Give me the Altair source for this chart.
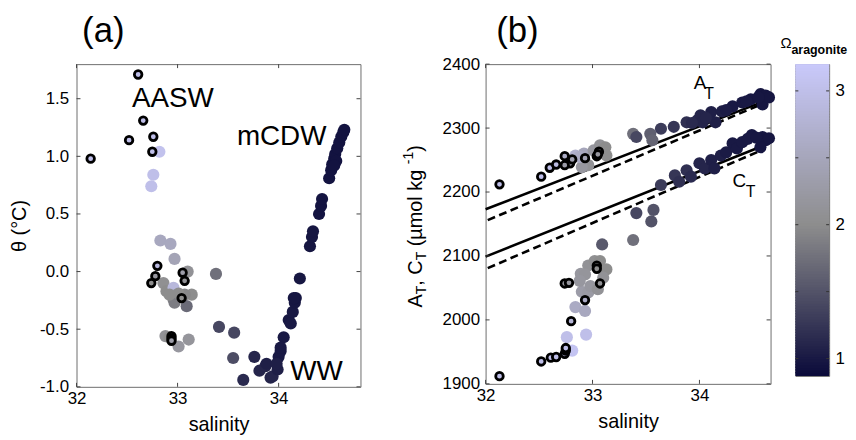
import altair as alt
import pandas as pd
import numpy as np

FONT = "Liberation Sans"

# ---------------- Panel (a): theta vs salinity ----------------
a_sal = [32.82, 32.76, 32.74, 32.83, 32.93, 32.97,
         32.86, 32.89, 32.96, 33.10, 33.14, 33.07, 32.96, 32.97, 33.09, 33.01, 32.92,
         32.88, 33.01, 33.11, 32.92,
         33.38, 33.41, 33.56, 33.55,
         33.65, 33.76, 33.81, 33.87, 33.88, 33.92, 33.94, 33.99, 34.00, 34.02, 34.05,
         34.10, 34.12, 34.14, 34.16, 34.17, 34.15, 34.21, 34.31, 34.33, 34.34, 34.40,
         34.42, 34.43, 34.50, 34.52, 34.53, 34.55, 34.56, 34.58, 34.60, 34.62, 34.64,
         34.65, 34.57, 34.55, 34.02, 33.98]
a_theta = [1.04, 0.84, 0.74, 0.27, 0.24, 0.11,
           -0.10, -0.17, -0.14, 0.00, -0.20, -0.20, -0.24, -0.27, -0.30, -0.19, -0.20,
           -0.56, -0.65, -0.59, -0.57,
           -0.02, -0.48, -0.53, -0.75,
           -0.94, -0.74, -0.86, -0.82, -0.80, -0.92, -0.91, -0.85, -0.74, -0.69, -0.57,
           -0.42, -0.45, -0.35, -0.27, -0.23, -0.23, -0.06, 0.22, 0.30, 0.35, 0.50,
           0.57, 0.63, 0.81, 0.88, 0.93, 0.98, 1.02, 1.07, 1.12, 1.17, 1.21,
           1.23, 0.96, 0.92, -0.66, -0.80]
a_omega = [3.05, 3.00, 3.00, 2.55, 2.55, 2.45,
           2.05, 2.00, 2.85, 2.10, 2.00, 1.95, 1.90, 1.85, 1.70, 2.00, 2.00,
           2.10, 2.20, 2.15, 2.00,
           1.75, 1.40, 1.40, 1.45,
           1.15, 1.10, 1.10, 1.10, 1.05, 1.10, 1.10, 1.05, 1.00, 1.00, 1.00,
           0.98, 1.00, 1.00, 0.98, 0.97, 0.98, 0.98, 0.97, 0.97, 0.97, 0.96,
           0.96, 0.96, 0.95, 0.95, 0.95, 0.95, 0.95, 0.95, 0.95, 0.95, 0.95,
           0.95, 0.95, 0.95, 1.00, 1.05]

a_ring_sal = [32.61, 32.66, 32.52, 32.76, 32.75, 32.14, 32.80, 32.78, 32.74,
              33.05, 33.07, 33.04, 32.94, 32.94, 32.94]
a_ring_theta = [1.71, 1.31, 1.14, 1.17, 1.04, 0.98, 0.05, -0.04, -0.10,
                -0.01, -0.08, -0.23, -0.56, -0.58, -0.60]
a_ring_omega = [3.0, 3.0, 3.0, 3.0, 3.0, 3.0, 2.9, 2.2, 2.0,
                2.3, 2.1, 2.0, 2.3, 2.3, 2.3]

a_lab_txt = ["AASW", "mCDW", "WW"]
a_lab_sal = [32.954, 34.03, 34.375]
a_lab_theta = [1.432, 1.10, -0.945]

# ---------------- Panel (b): AT / CT vs salinity ----------------
at_sal = [32.84, 32.92, 33.01, 33.07, 33.12, 33.13, 32.96, 32.90, 32.88,
          33.38, 33.41, 33.54, 33.56,
          33.64, 33.76, 33.88, 33.98, 34.01, 34.03, 34.11, 34.15, 34.21, 34.31,
          34.40, 34.48, 34.57, 34.62, 34.59, 34.65, 34.55, 34.25, 34.06, 33.93, 34.44]
at_val = [2257, 2260, 2265, 2273, 2270, 2257, 2242, 2239, 2255,
          2291, 2286, 2291, 2281,
          2299, 2302, 2309, 2312, 2320, 2309, 2325, 2309, 2326, 2334,
          2340, 2345, 2353, 2351, 2337, 2348, 2348, 2328, 2316, 2308, 2342]
at_omega = [2.7, 2.5, 2.2, 2.1, 2.0, 2.0, 2.1, 2.2, 2.6,
            1.75, 1.4, 1.6, 1.65,
            1.3, 1.25, 1.2, 1.15, 1.1, 1.1, 1.05, 1.05, 1.05, 1.0,
            1.0, 0.98, 0.97, 0.97, 0.97, 0.97, 0.98, 1.02, 1.1, 1.15, 1.0]

at_ring_sal = [32.13, 32.52, 32.60, 32.66, 32.74, 32.79, 32.74, 32.81, 32.93, 33.04, 33.06, 33.05]
at_ring_val = [2212, 2224, 2238, 2243, 2256, 2245, 2242, 2251, 2253, 2256, 2263, 2259]
at_ring_omega = [3.0, 3.0, 3.0, 2.9, 2.6, 2.3, 2.3, 2.4, 2.4, 2.3, 2.2, 2.2]

ct_sal = [32.76, 32.94, 32.81, 32.84, 32.93,
          32.90, 32.96, 32.98, 32.89, 32.96, 33.02, 33.07, 33.13, 33.10, 32.93, 33.05, 32.88,
          33.09, 33.38, 33.41, 33.55, 33.57,
          33.64, 33.77, 33.81, 33.88, 33.92, 34.00, 34.05, 34.11, 34.14, 34.20, 34.25,
          34.31, 34.35, 34.40, 34.49, 34.59, 34.62, 34.57, 34.65, 34.45, 34.53]
ct_val = [1973, 1977, 1952, 2020, 2014,
          2044, 2043, 2053, 2072, 2085, 2092, 2092, 2079, 2066, 2071, 2048, 2061,
          2118, 2125, 2167, 2154, 2172,
          2211, 2226, 2216, 2234, 2224, 2245, 2237, 2250, 2237, 2257, 2262,
          2276, 2268, 2278, 2289, 2286, 2281, 2270, 2284, 2283, 2285]
ct_omega = [3.0, 3.0, 3.1, 2.6, 2.55,
            2.3, 2.25, 2.2, 2.2, 2.1, 2.05, 2.0, 2.0, 2.1, 2.15, 2.1, 2.2,
            1.55, 1.75, 1.4, 1.5, 1.5,
            1.3, 1.25, 1.2, 1.2, 1.15, 1.1, 1.1, 1.05, 1.05, 1.05, 1.02,
            1.0, 1.0, 1.0, 0.98, 0.97, 0.97, 0.97, 0.97, 1.0, 0.98]

ct_ring_sal = [32.13, 32.52, 32.61, 32.66, 32.74, 32.75, 32.75, 32.80, 32.93,
               32.74, 32.78, 33.04, 33.04, 33.07]
ct_ring_val = [1912, 1935, 1941, 1942, 1947, 1952, 1956, 1998, 2031,
               2057, 2058, 2085, 2080, 2057]
ct_ring_omega = [3.0, 3.0, 3.0, 3.0, 3.0, 3.0, 3.0, 2.8, 2.6,
                 2.2, 2.2, 2.0, 2.0, 2.1]

# mixing lines (end points)
line_at_solid_sal = [32.0, 34.59]
line_at_solid_val = [2173, 2341]
line_at_dash_sal = [32.02, 34.59]
line_at_dash_val = [2156, 2338]
line_ct_solid_sal = [32.0, 34.59]
line_ct_solid_val = [2099, 2272]
line_ct_dash_sal = [32.02, 34.59]
line_ct_dash_val = [2081, 2266]

# ticks
a_xticks = [32, 33, 34]
a_yticks = [-1.0, -0.5, 0.0, 0.5, 1.0, 1.5]
b_xticks = [32, 33, 34]
b_yticks = [1900, 2000, 2100, 2200, 2300, 2400]
cb_ticks = [1.0, 1.5, 2.0, 2.5, 3.0]
cb_labels = [1, 2, 3]

# colour scale for Omega aragonite
OMEGA_DOMAIN = [0.87, 2.0, 3.2]
OMEGA_RANGE = ["#0a0a3a", "#8d8d8d", "#c9c9fb"]
cscale = alt.Scale(domain=OMEGA_DOMAIN, range=OMEGA_RANGE, interpolate="rgb", clamp=True)

TICK_COLOR = "#444"
TICK_LEN = 4
PT_SIZE = 150
RING_SIZE = 58
RING_W = 2.8


def inner_ticks(xs, ys, X, Y, W, H, L=TICK_LEN):
    dx = pd.DataFrame({"x": xs})
    dy = pd.DataFrame({"y": ys})
    layers = []
    for y0, y1 in [(H, H - L), (0, L)]:
        layers.append(alt.Chart(dx).mark_rule(color=TICK_COLOR, strokeWidth=1).encode(
            x=X, y=alt.value(y0), y2=alt.value(y1)))
    for x0, x1 in [(0, L), (W, W - L)]:
        layers.append(alt.Chart(dy).mark_rule(color=TICK_COLOR, strokeWidth=1).encode(
            y=Y, x=alt.value(x0), x2=alt.value(x1)))
    return layers


def label_text(txt, x, y, size, align="center", weight="normal", angle=None):
    kw = dict(fontSize=size, align=align, baseline="alphabetic", font=FONT,
              color="black", fontWeight=weight)
    if angle is not None:
        kw["angle"] = angle
    return alt.Chart(pd.DataFrame({"t": [txt]})).mark_text(**kw).encode(
        x=alt.value(x), y=alt.value(y), text="t:N")


# ---------------- Panel (a) ----------------
WA, HA = 286, 325
xa = alt.Scale(domain=[32, 34.81], nice=False, zero=False)
ya = alt.Scale(domain=[-1.0, 1.8], nice=False, zero=False)
xaxis_a = alt.Axis(values=a_xticks, format="d", labelPadding=4, titlePadding=8,
                   labelFlush=False, title="salinity")
yaxis_a = alt.Axis(values=a_yticks, labelExpr="replace(format(datum.value, '.1f'), '\u2212', '-')",
                   labelPadding=8, titlePadding=10, labelFlush=False, title="\u03b8 (\u00b0C)")
XA = alt.X("x:Q", scale=xa, axis=xaxis_a)
YA = alt.Y("y:Q", scale=ya, axis=yaxis_a)

dfa = pd.DataFrame({"x": a_sal, "y": a_theta, "omega": a_omega})
dfa_r = pd.DataFrame({"x": a_ring_sal, "y": a_ring_theta, "omega": a_ring_omega})
dfa_l = pd.DataFrame({"x": a_lab_sal, "y": a_lab_theta, "t": a_lab_txt})

a_pts = alt.Chart(dfa).mark_circle(size=PT_SIZE, opacity=1).encode(
    x=XA, y=YA, color=alt.Color("omega:Q", scale=cscale, legend=None))
a_ring = alt.Chart(dfa_r).mark_circle(size=RING_SIZE, opacity=1, stroke="black", strokeWidth=RING_W).encode(
    x=XA, y=YA, fill=alt.Fill("omega:Q", scale=cscale, legend=None))
a_lab = alt.Chart(dfa_l).mark_text(fontSize=28, align="center", baseline="alphabetic",
                                   font=FONT, color="black").encode(x=XA, y=YA, text="t:N")
anchor = alt.Chart(pd.DataFrame({"d": [0]})).mark_rule(color="white", strokeWidth=1).encode(
    x=alt.value(-68), x2=alt.value(-67), y=alt.value(-54))

panel_a = alt.layer(
    a_pts, a_ring, a_lab,
    *inner_ticks(a_xticks, a_yticks, XA, YA, WA, HA),
    label_text("(a)", 27, -22, 35),
    anchor,
).properties(width=WA, height=HA)

# ---------------- Panel (b) ----------------
WB, HB = 287, 322
xb = alt.Scale(domain=[32, 34.665], nice=False, zero=False)
yb = alt.Scale(domain=[1900, 2400], nice=False, zero=False)
xaxis_b = alt.Axis(values=b_xticks, format="d", labelPadding=4, titlePadding=8,
                   labelFlush=False, title="salinity")
yaxis_b = alt.Axis(values=b_yticks, format="d", labelPadding=6, labelFlush=False, title=None)
XB = alt.X("x:Q", scale=xb, axis=xaxis_b)
YB = alt.Y("y:Q", scale=yb, axis=yaxis_b)

dfb = pd.DataFrame({"x": at_sal + ct_sal, "y": at_val + ct_val, "omega": at_omega + ct_omega})
dfb_r = pd.DataFrame({"x": at_ring_sal + ct_ring_sal, "y": at_ring_val + ct_ring_val,
                      "omega": at_ring_omega + ct_ring_omega})
dfl_s = pd.concat([
    pd.DataFrame({"x": line_at_solid_sal, "y": line_at_solid_val, "k": "at"}),
    pd.DataFrame({"x": line_ct_solid_sal, "y": line_ct_solid_val, "k": "ct"}),
])
dfl_d = pd.concat([
    pd.DataFrame({"x": line_at_dash_sal, "y": line_at_dash_val, "k": "at"}),
    pd.DataFrame({"x": line_ct_dash_sal, "y": line_ct_dash_val, "k": "ct"}),
])

b_lines_solid = alt.Chart(dfl_s).mark_line(color="black", strokeWidth=2.6).encode(
    x=XB, y=YB, detail="k:N")
b_lines_dash = alt.Chart(dfl_d).mark_line(color="black", strokeWidth=2.6, strokeDash=[8, 4.5]).encode(
    x=XB, y=YB, detail="k:N")
b_pts = alt.Chart(dfb).mark_circle(size=PT_SIZE, opacity=1).encode(
    x=XB, y=YB, color=alt.Color("omega:Q", scale=cscale, legend=None))
b_ring = alt.Chart(dfb_r).mark_circle(size=RING_SIZE, opacity=1, stroke="black", strokeWidth=RING_W).encode(
    x=XB, y=YB, fill=alt.Fill("omega:Q", scale=cscale, legend=None))

b_lab_txt = ["A", "T", "C", "T"]
b_lab_sal = [33.947, 34.046, 34.309, 34.433]
b_lab_val = [2361, 2345.6, 2208, 2192.6]
b_lab_size = [19, 16, 19, 16]
dfb_l = pd.DataFrame({"x": b_lab_sal, "y": b_lab_val, "t": b_lab_txt, "s": b_lab_size})
b_lab = alt.Chart(dfb_l).mark_text(align="left", baseline="alphabetic", font=FONT, color="black").encode(
    x=XB, y=YB, text="t:N", size=alt.Size("s:Q", scale=None, legend=None))

# rotated y-axis title with sub/superscripts: A_T, C_T (µmol kg^-1)
EM = {"A": .667, "T": .611, ",": .278, " ": .278, "C": .722, "(": .333, "\u00b5": .576,
      "m": .833, "o": .556, "l": .222, "k": .5, "g": .556, "-": .333, "1": .556, ")": .333}
pieces = [("A", 20, 0), ("T", 14, 4), (", C", 20, 0), ("T", 14, 4),
          (" (\u00b5mol kg ", 20, 0), ("-1", 14, -9), (")", 20, 0)]
title_layers = []
ypos = 245.0
for txt, fs, shift in pieces:
    lead = len(txt) - len(txt.lstrip(" "))
    ypos -= lead * EM[" "] * fs
    core = txt.strip(" ")
    title_layers.append(label_text(core, -64 + shift, ypos, fs, align="left", angle=270))
    trail = len(txt.lstrip(" ")) - len(core)
    ypos -= (sum(EM[c] for c in core) + trail * EM[" "]) * fs

panel_b = alt.layer(
    b_lines_solid, b_lines_dash, b_pts, b_ring, b_lab,
    *inner_ticks(b_xticks, b_yticks, XB, YB, WB, HB),
    label_text("(b)", 32, -22, 35),
    *title_layers,
).properties(width=WB, height=HB)

# ---------------- Colour bar ----------------
WC, HC = 34, 314
ycb = alt.Scale(domain=[0.87, 3.2], nice=False, zero=False)
yaxis_c = alt.Axis(orient="right", values=cb_labels, format="d", labelPadding=6,
                   labelFlush=False, title=None)
steps = np.round(np.arange(0.87, 3.2, 0.02), 4)
dfc = pd.DataFrame({"y": steps, "hi": np.minimum(steps + 0.03, 3.2), "mid": steps + 0.01})
YC = alt.Y("y:Q", scale=ycb, axis=yaxis_c)

cb_rect = alt.Chart(dfc).mark_rect().encode(
    y=YC, y2="hi:Q", x=alt.value(0), x2=alt.value(WC),
    color=alt.Color("mid:Q", scale=cscale, legend=None))
dct = pd.DataFrame({"y": cb_ticks})
cb_ticks_l = alt.Chart(dct).mark_rule(color="#333", strokeWidth=1).encode(
    y=YC, x=alt.value(0), x2=alt.value(3))
cb_ticks_r = alt.Chart(dct).mark_rule(color="#333", strokeWidth=1).encode(
    y=YC, x=alt.value(WC - 3), x2=alt.value(WC))

cbar = alt.layer(
    cb_rect, cb_ticks_l, cb_ticks_r,
    label_text("\u03a9", -15, -16, 15, align="left"),
    label_text("aragonite", -4, -10, 12.5, align="left", weight="bold"),
).properties(width=WC, height=HC)

chart = alt.hconcat(
    panel_a,
    alt.hconcat(panel_b, cbar, spacing=25, bounds="flush"),
    spacing=126, bounds="flush",
).properties(padding=0, background="white").configure_view(
    stroke="#6e6e6e", strokeWidth=1
).configure_axis(
    labelFont=FONT, titleFont=FONT, labelColor="black", titleColor="black",
    grid=False, domain=False, ticks=False, labelFontSize=17, titleFontSize=20,
    titleFontWeight="normal"
)

chart.save("out.html", embed_options={"renderer": "svg", "actions": False})
